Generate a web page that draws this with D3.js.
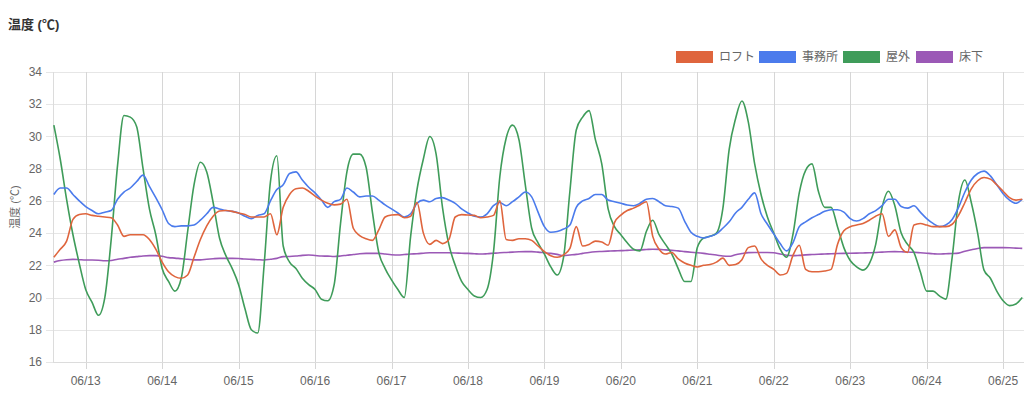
<!DOCTYPE html>
<html>
<head>
<meta charset="utf-8">
<script src="https://cdn.jsdelivr.net/npm/d3@7"></script>
<style>
  body { margin: 0; background: #fff; }
  svg { display: block; font-family: "Liberation Sans", Arial, "Noto Sans CJK JP", sans-serif; }
</style>
</head>
<body>
<svg id="chart" width="1024" height="397"></svg>
<script>
// readings every 2 hours, first one at 06/12 14:00
var startTime = new Date(2023, 5, 12, 14);
var stepHours = 2;

var seriesNames = ["ロフト", "事務所", "屋外", "床下"];
var seriesColors = ["#df653d", "#4b7bec", "#3f9c5a", "#9b59b6"];

var loft = [
  22.5, 23.0, 23.5, 24.85, 25.15,
  25.2, 25.1, 25.05, 25.0, 24.95, 24.5, 23.8, 23.9, 23.9, 23.9, 23.6, 23.0,
  22.2, 21.6, 21.3, 21.2, 21.4, 22.5, 23.6, 24.45, 25.05, 25.37, 25.4, 25.35,
  25.25, 25.15, 25.0, 25.0, 25.0, 25.2, 23.9, 25.6, 26.4, 26.75, 26.8, 26.6,
  26.3, 26.05, 25.85, 25.75, 25.8, 26.1, 24.3, 23.85, 23.65, 23.55, 24.2, 25.0,
  25.12, 25.15, 24.95, 25.05, 25.9, 24.0, 23.3, 23.55, 23.35, 23.6, 25.0, 25.15,
  25.12, 25.1, 24.95, 25.0, 25.1, 26.0, 23.6, 23.55, 23.65, 23.65, 23.55, 23.2,
  22.85, 22.6, 22.5, 22.65, 23.05, 24.4, 23.2, 23.3, 23.5, 23.45, 23.25, 24.65,
  25.12, 25.4, 25.55, 25.75, 25.95, 23.8, 23.0, 22.7, 22.8, 22.4, 22.15, 22.0,
  21.9, 22.0, 22.05, 22.2, 22.45, 22.0, 22.05, 22.35, 23.1, 23.2, 22.4, 22.0,
  21.75, 21.4, 21.5, 22.6, 23.25, 21.75, 21.6, 21.6, 21.65, 21.75, 23.3, 24.15,
  24.4, 24.5, 24.6, 24.8, 25.05, 25.2, 23.8, 24.2, 23.1, 22.8, 24.5, 24.6,
  24.5, 24.4, 24.4, 24.4, 24.55, 25.1, 25.9, 26.75, 27.25, 27.45, 27.35, 27.0,
  26.6, 26.2, 26.05, 26.1
];

var office = [
  26.4, 26.8, 26.8, 26.4, 26.0,
  25.65, 25.4, 25.2, 25.3, 25.4, 26.1, 26.55, 26.8, 27.2, 27.6, 26.9, 26.2,
  25.45, 24.6, 24.4, 24.45, 24.45, 24.5, 24.8, 25.2, 25.6, 25.5, 25.4, 25.35,
  25.25, 25.05, 24.9, 25.1, 25.2, 26.0, 26.7, 27.0, 27.7, 27.8, 27.3, 26.85,
  26.5, 26.05, 25.6, 25.95, 26.1, 26.8, 26.55, 26.25, 26.3, 26.3, 26.05, 25.75,
  25.5, 25.25, 25.0, 25.2, 25.85, 26.05, 25.95, 26.15, 26.2, 26.05, 25.85, 25.5,
  25.25, 25.05, 25.0, 25.2, 25.7, 25.9, 25.7, 25.95, 26.25, 26.55, 26.25, 25.3,
  24.4, 24.05, 24.1, 24.25, 24.5, 25.6, 26.0, 26.15, 26.4, 26.4, 26.05, 25.95,
  25.85, 25.75, 25.7, 25.85, 26.1, 26.15, 25.95, 25.7, 25.65, 25.55, 24.75, 24.05,
  23.8, 23.7, 23.8, 23.95, 24.3, 24.7, 25.25, 25.6, 26.1, 26.5, 25.2, 24.55,
  23.95, 23.35, 22.9, 23.4, 24.4, 24.7, 24.95, 25.15, 25.35, 25.45, 25.45, 25.3,
  24.9, 24.75, 24.9, 25.2, 25.4, 25.7, 26.1, 26.1, 25.65, 25.55, 25.7, 25.3,
  24.9, 24.6, 24.4, 24.5, 24.85, 25.6, 26.55, 27.3, 27.7, 27.85, 27.55, 27.0,
  26.45, 26.05, 25.85, 26.1
];

var outdoor = [
  30.7, 28.6, 26.1, 23.9, 22.1,
  20.5, 19.7, 18.9, 20.0, 23.6, 28.2, 31.3, 31.2, 30.6, 28.0, 25.5, 23.9,
  21.8, 21.0, 20.4, 21.2, 24.1, 27.0, 28.4, 27.8, 25.9, 23.7, 22.6, 21.8,
  20.8, 19.3, 18.0, 17.8, 22.0, 27.2, 28.8, 23.2, 22.2, 21.8, 21.2, 20.8,
  20.5, 19.9, 19.8, 20.8, 24.6, 27.8, 28.9, 28.9, 28.1, 25.3, 22.8, 21.8,
  21.1, 20.5, 20.0, 23.8, 26.7, 28.6, 30.0, 28.9, 25.6, 23.3, 22.0, 21.0,
  20.5, 20.1, 20.0, 20.5, 22.8, 27.5, 29.9, 30.7, 29.8, 27.0, 24.3, 23.4,
  22.7, 21.9, 21.4, 22.5, 26.6, 30.4, 31.2, 31.6, 29.8, 28.3, 25.5, 24.4,
  23.9, 23.4, 23.0, 22.9, 24.1, 24.8, 23.9, 23.3, 22.7, 21.8, 21.0, 21.0,
  23.1, 23.7, 23.8, 24.0, 25.5, 29.2, 31.1, 32.2, 30.9, 28.3, 26.4, 25.0,
  24.0, 23.0, 22.5, 23.9, 26.5, 27.9, 28.3, 26.6, 25.6, 25.6, 24.4, 23.1,
  22.3, 21.9, 21.7, 22.1, 23.3, 25.6, 26.6, 25.7, 24.0, 23.3, 22.8, 21.6,
  20.4, 20.4, 20.1, 19.9, 22.5, 26.0, 27.3, 25.9, 24.0, 21.7, 21.2, 20.4,
  19.8, 19.5, 19.6, 20.0
];

var underfloor = [
  22.2, 22.3, 22.35, 22.37, 22.35,
  22.33, 22.33, 22.32, 22.28, 22.3, 22.38, 22.43, 22.5, 22.54, 22.58, 22.6, 22.6,
  22.56, 22.48, 22.45, 22.41, 22.38, 22.34, 22.34, 22.38, 22.41, 22.43, 22.43, 22.43,
  22.42, 22.39, 22.37, 22.35, 22.33, 22.38, 22.43, 22.54, 22.55, 22.58, 22.62, 22.64,
  22.61, 22.58, 22.57, 22.55, 22.58, 22.63, 22.67, 22.72, 22.74, 22.74, 22.74, 22.7,
  22.66, 22.64, 22.67, 22.7, 22.72, 22.75, 22.78, 22.78, 22.78, 22.78, 22.77, 22.75,
  22.74, 22.72, 22.7, 22.72, 22.75, 22.78, 22.8, 22.82, 22.84, 22.85, 22.85, 22.82,
  22.78, 22.74, 22.68, 22.6, 22.64, 22.68, 22.74, 22.8, 22.84, 22.86, 22.88, 22.9,
  22.91, 22.93, 22.95, 22.96, 22.98, 23.0, 22.99, 22.96, 22.93, 22.9, 22.85, 22.81,
  22.78, 22.74, 22.69, 22.64, 22.58, 22.56, 22.66, 22.73, 22.79, 22.8, 22.8, 22.8,
  22.78, 22.7, 22.63, 22.6, 22.62, 22.65, 22.67, 22.69, 22.7, 22.72, 22.73, 22.74,
  22.75, 22.76, 22.77, 22.78, 22.8, 22.82, 22.84, 22.85, 22.84, 22.83, 22.81, 22.78,
  22.75, 22.72, 22.7, 22.72, 22.73, 22.76, 22.88, 22.97, 23.05, 23.1, 23.1, 23.1,
  23.1, 23.09, 23.07, 23.05
];

var yTicks = [16, 18, 20, 22, 24, 26, 28, 30, 32, 34];

var svg = d3.select("#chart");
// plot area (named so they don't clash with window.top)
var plotLeft = 53, plotRight = 1024, plotTop = 72, plotBottom = 362;

var x = d3.scaleTime()
  .domain([new Date(2023, 5, 12, 13, 44), new Date(2023, 5, 25, 6, 33)])
  .range([plotLeft, plotRight]);
var y = d3.scaleLinear().domain([16, 34]).range([plotBottom, plotTop]);

var dayTicks = d3.timeDay.range(new Date(2023, 5, 13), new Date(2023, 5, 26));

// title
svg.append("text").attr("x", 8).attr("y", 29)
  .text("温度 (℃)")
  .style("font-size", "13px").style("font-weight", "bold").attr("fill", "#333");

// horizontal grid + y labels
svg.selectAll(".hgrid").data(yTicks).enter().append("line")
  .attr("x1", plotLeft - 7).attr("x2", plotRight)
  .attr("y1", function(d) { return Math.round(y(d)) + 0.5; })
  .attr("y2", function(d) { return Math.round(y(d)) + 0.5; })
  .attr("stroke", "#e6e6e6").attr("stroke-width", 1);

svg.selectAll(".ylab").data(yTicks).enter().append("text")
  .attr("x", 42).attr("y", function(d) { return y(d); })
  .attr("dy", "0.35em").attr("text-anchor", "end")
  .text(function(d) { return d; })
  .style("font-size", "12px").attr("fill", "#666");

// vertical grid + x labels
svg.selectAll(".vgrid").data(dayTicks).enter().append("line")
  .attr("x1", function(d) { return Math.round(x(d)) + 0.5; })
  .attr("x2", function(d) { return Math.round(x(d)) + 0.5; })
  .attr("y1", plotTop).attr("y2", plotBottom + 7)
  .attr("stroke", "#d6d6d6").attr("stroke-width", 1);

svg.selectAll(".xlab").data(dayTicks).enter().append("text")
  .attr("x", function(d) { return x(d); }).attr("y", 385)
  .attr("text-anchor", "middle")
  .text(d3.timeFormat("%m/%d"))
  .style("font-size", "12px").attr("fill", "#666");

// axis lines
svg.append("line").attr("x1", plotLeft + 0.5).attr("x2", plotLeft + 0.5).attr("y1", plotTop).attr("y2", plotBottom)
  .attr("stroke", "#dcdcdc");
svg.append("line").attr("x1", plotLeft).attr("x2", plotRight).attr("y1", plotBottom + 0.5).attr("y2", plotBottom + 0.5)
  .attr("stroke", "#dcdcdc");

// y axis title
svg.append("text")
  .attr("transform", "translate(19,207) rotate(-90)")
  .attr("text-anchor", "middle")
  .text("温度 (℃)")
  .style("font-size", "11px").attr("fill", "#666");

// lines
svg.append("clipPath").attr("id", "plotclip").append("rect")
  .attr("x", plotLeft).attr("y", plotTop - 2).attr("width", plotRight - plotLeft).attr("height", plotBottom - plotTop + 4);

var line = d3.line()
  .x(function(d, i) { return x(d3.timeHour.offset(startTime, i * stepHours)); })
  .y(function(d) { return y(d); })
  .curve(d3.curveMonotoneX);

var allSeries = [loft, office, outdoor, underfloor];
var plot = svg.append("g").attr("clip-path", "url(#plotclip)");
for (var s = allSeries.length - 1; s >= 0; s--) {
  plot.append("path")
    .attr("d", line(allSeries[s]))
    .attr("fill", "none")
    .attr("stroke", seriesColors[s])
    .attr("stroke-width", 1.6)
    .attr("stroke-linejoin", "round");
}

// legend
var legendX = [676, 759, 843, 916];
var legend = svg.selectAll(".legend").data(seriesNames).enter().append("g")
  .attr("transform", function(d, i) { return "translate(" + legendX[i] + ",51)"; });
legend.append("rect")
  .attr("width", 37).attr("height", 12)
  .attr("fill", function(d, i) { return seriesColors[i]; });
legend.append("text")
  .attr("x", 43).attr("y", 6).attr("dy", "0.35em")
  .text(function(d) { return d; })
  .style("font-size", "12px").attr("fill", "#666");
</script>
</body>
</html>
